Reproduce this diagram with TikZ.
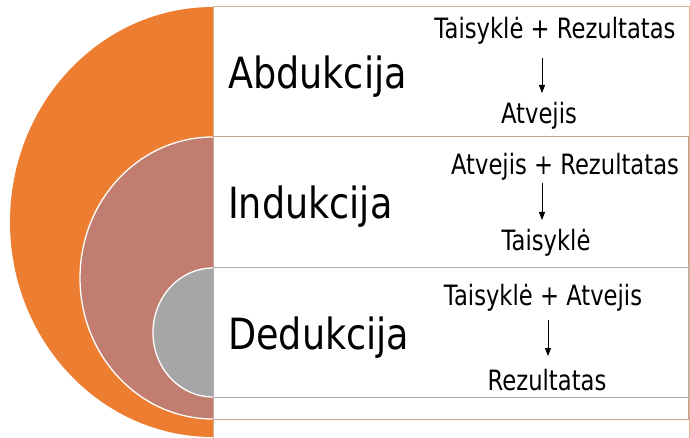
\documentclass[tikz,border=0pt]{standalone}
\usepackage{fontspec}
\setmainfont{DejaVu Sans}[FakeStretch=0.85]
\newfontfamily\smallfnt{DejaVu Sans}[FakeStretch=0.81]
\usetikzlibrary{arrows.meta}
\definecolor{orng}{RGB}{237,125,49}
\definecolor{brwn}{RGB}{193,126,112}
\definecolor{gry}{RGB}{166,166,166}
\definecolor{obord}{RGB}{222,176,140}
\definecolor{bbord}{RGB}{200,160,150}
\definecolor{gbord}{RGB}{175,175,175}
\begin{document}
\begin{tikzpicture}[x=1pt,y=-1pt,
  big/.style={inner sep=0pt, anchor=base west, font=\fontsize{43}{48}\selectfont},
  small/.style={inner sep=0pt, anchor=base, font=\smallfnt\fontsize{28}{32}\selectfont},
  arr/.style={line width=0.8pt, -{Triangle[length=8pt,width=6pt]}},
  rim/.style={draw=white, line width=1.3pt}]
\useasboundingbox (0,0) rectangle (690,438);
% nested half disks
\begin{scope}
  \clip (0,0) rectangle (213,438);
  \fill[orng] (213,222) ellipse [x radius=203, y radius=215];
  \filldraw[fill=brwn, rim] (213,278) ellipse [x radius=133, y radius=141];
  \filldraw[fill=gry, rim] (213,332.5) ellipse [x radius=60, y radius=64.5];
\end{scope}
% rectangles
\draw[draw=obord, fill=white, line width=1pt] (213,7) rectangle (689,440);
\draw[draw=bbord, fill=white, line width=1pt] (213,137) rectangle (688.5,419);
\draw[draw=gbord, fill=white, line width=1pt] (213,267) rectangle (688,397);
% labels
\node[big] (abd) at (228,89) {Abdukcija};
\node[big] (ind) at (228,219) {Indukcija};
\node[big] (ded) at (228,349) {Dedukcija};
% row 1
\node[small] (r1t) at (555,39) {Taisyklė + Rezultatas};
\node[small] (r1b) at (539,124) {Atvejis};
\coordinate (a1s) at (542,58);
\coordinate (a1e) at (542,93);
\draw[arr] (a1s) -- (a1e);
% row 2
\node[small] (r2t) at (565,175) {Atvejis + Rezultatas};
\node[small] (r2b) at (546,251) {Taisyklė};
\coordinate (a2s) at (542,183);
\coordinate (a2e) at (542,220);
\draw[arr] (a2s) -- (a2e);
% row 3
\node[small] (r3t) at (543,305) {Taisyklė + Atvejis};
\node[small] (r3b) at (547,390) {Rezultatas};
\coordinate (a3s) at (548,320);
\coordinate (a3e) at (548,356);
\draw[arr] (a3s) -- (a3e);
\end{tikzpicture}
\end{document}
